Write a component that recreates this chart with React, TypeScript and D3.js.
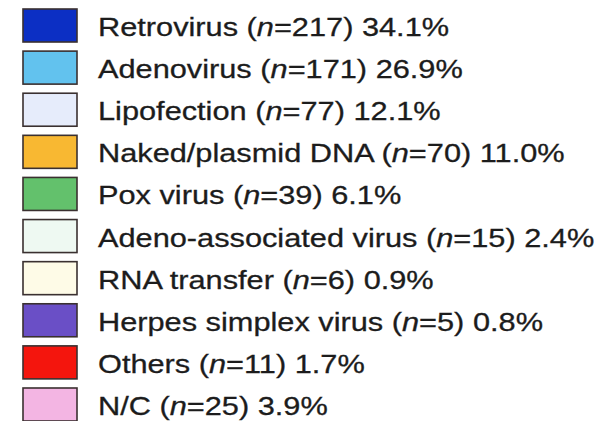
import React from "react";
import * as d3 from "d3";

const categories = [
  "Retrovirus",
  "Adenovirus",
  "Lipofection",
  "Naked/plasmid DNA",
  "Pox virus",
  "Adeno-associated virus",
  "RNA transfer",
  "Herpes simplex virus",
  "Others",
  "N/C",
];
const counts = [217, 171, 77, 70, 39, 15, 6, 5, 11, 25];
const percents = ["34.1", "26.9", "12.1", "11.0", "6.1", "2.4", "0.9", "0.8", "1.7", "3.9"];
const colors = [
  "#0c2fc4",
  "#62c2ee",
  "#e6ecfb",
  "#f8b832",
  "#63c16c",
  "#eef9f2",
  "#fefbe7",
  "#6a4fc6",
  "#f4150d",
  "#f3b5e3",
];

const W = 605;
const H = 421;
const SX = 1.16;

export default function App() {
  const y = d3.scaleLinear().domain([0, categories.length - 1]).range([9, 388]);
  return (
    <svg width={W} height={H} style={{ position: "absolute", left: 0, top: 0, background: "#fff" }}>
      <rect x={0} y={0} width={W} height={H} fill="#fff" />
      {categories.map((c, i) => (
        <g key={c}>
          <rect
            x={23}
            y={y(i)}
            width={54}
            height={33}
            fill={colors[i]}
            stroke="#3a3030"
            strokeWidth={1.6}
          />
          <g transform={`translate(98,${y(i) + 27}) scale(${SX},1)`}>
            <text
              x={0}
              y={0}
              fontFamily="'Liberation Sans', Arial, sans-serif"
              fontSize={26.5}
              fill="#1c1c1c"
              stroke="#1c1c1c"
              strokeWidth={0.3}
            >
              {c} (<tspan fontStyle="italic">n</tspan>={counts[i]}) {percents[i]}%
            </text>
          </g>
        </g>
      ))}
    </svg>
  );
}
